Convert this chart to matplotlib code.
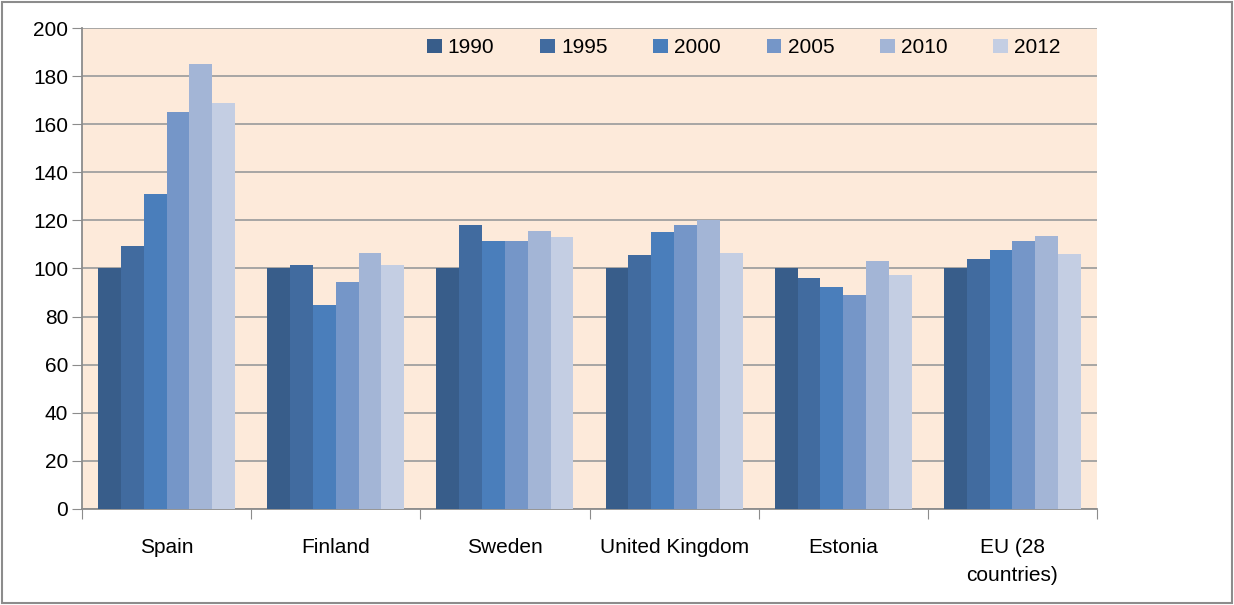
import numpy as np
import matplotlib.pyplot as plt
from matplotlib.patches import Rectangle

countries = ['Spain', 'Finland', 'Sweden', 'United Kingdom', 'Estonia', 'EU (28\ncountries)']
years = ['1990', '1995', '2000', '2005', '2010', '2012']
v1990 = [100, 100, 100, 100, 100, 100]
v1995 = [109.5, 101.5, 118, 105.5, 96, 104]
v2000 = [131, 85, 111.5, 115, 92.5, 107.5]
v2005 = [165, 94.5, 111.5, 118, 89, 111.5]
v2010 = [185, 106.5, 115.5, 120, 103, 113.5]
v2012 = [169, 101.5, 113, 106.5, 97.5, 106]
series = [v1990, v1995, v2000, v2005, v2010, v2012]
colors = ['#385D8A', '#416B9F', '#4A7EBB', '#7596C8', '#A3B5D6', '#C4CEE3']

plt.rcParams['font.family'] = ['Liberation Sans', 'DejaVu Sans']

fig = plt.figure(figsize=(12.34, 6.05), dpi=100)
ax = fig.add_axes([0.0665, 0.1587, 0.8225, 0.795])
fig.patches.append(Rectangle((0.002, 0.003), 0.996, 0.994, transform=fig.transFigure,
                             fill=False, edgecolor='#8c8c8c', linewidth=1.5))

x = np.arange(len(countries))
w = 0.135
for i, (vals, c) in enumerate(zip(series, colors)):
    ax.bar(x + (i - 2.5) * w, vals, w, color=c, label=years[i], zorder=3)

ax.set_facecolor('#FDEADA')
ax.set_xlim(-0.5, len(countries) - 0.5)
ax.set_ylim(0, 200)
ax.set_yticks(range(0, 201, 20))
ax.yaxis.grid(True, color='#a0a0a0', linewidth=1.3, zorder=0)
ax.set_xticks(np.arange(-0.5, len(countries), 1))
ax.set_xticklabels([])
ax.set_xticks(x, minor=True)
ax.set_xticklabels(countries, minor=True, fontsize=15, linespacing=1.6)
ax.tick_params(axis='x', which='minor', length=0, pad=21)
ax.tick_params(axis='x', which='major', length=7, color='#8c8c8c')
ax.tick_params(axis='y', length=7, color='#8c8c8c', labelsize=15, pad=3)
for s in ['top', 'right']:
    ax.spines[s].set_visible(False)
for s in ['left', 'bottom']:
    ax.spines[s].set_color('#8c8c8c')
    ax.spines[s].set_linewidth(1.3)

ax.legend(ncol=6, loc='upper center', bbox_to_anchor=(0.652, 1.018), frameon=False,
          fontsize=15, handlelength=0.7, handleheight=0.7, handletextpad=0.3,
          columnspacing=2.2)

fig.savefig('out.png', dpi=100)
